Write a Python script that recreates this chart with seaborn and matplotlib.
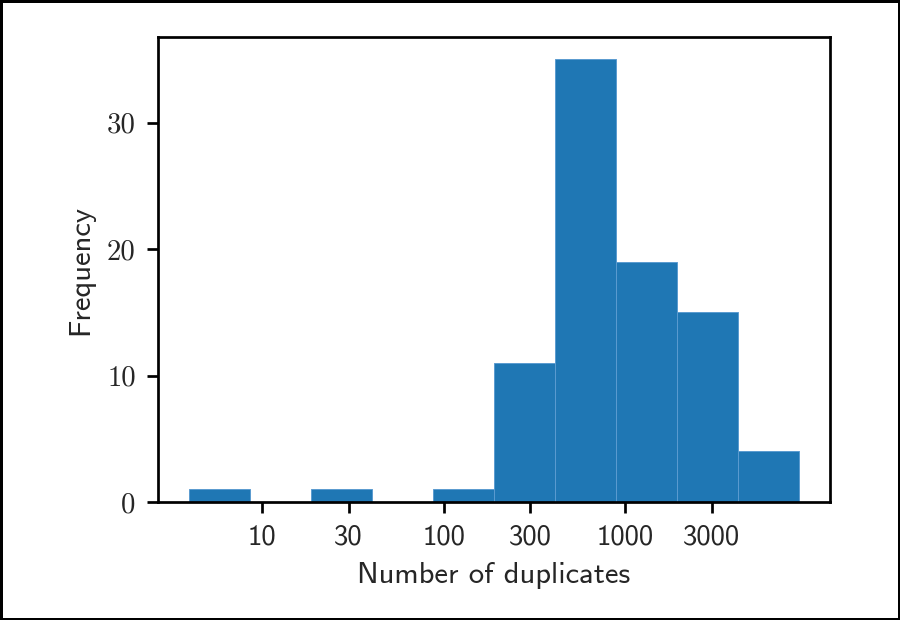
import numpy as np
import matplotlib
matplotlib.use('Agg')
import matplotlib.pyplot as plt
import seaborn as sns

# Histogram: 10 log-spaced bins
counts = [1, 0, 1, 0, 1, 11, 35, 19, 15, 4]
lowest, highest = 3.95, 9100  # outer bin edges
xtick_values = [10, 30, 100, 300, 1000, 3000]
ytick_values = [0, 10, 20, 30]

log_edges = np.linspace(np.log10(lowest), np.log10(highest), len(counts) + 1)
centers = 10 ** ((log_edges[:-1] + log_edges[1:]) / 2)

sns.set_style('ticks')
plt.rcParams['font.family'] = ['cmss10', 'DejaVu Sans']
plt.rcParams['axes.unicode_minus'] = False

dpi = 230
fig = plt.figure(figsize=(900 / dpi, 620 / dpi), dpi=dpi)
ax = fig.add_axes([0.1756, 0.1903, 0.9222 - 0.1756, 0.9398 - 0.1903])

sns.histplot(x=list(centers), weights=counts, bins=list(log_edges), log_scale=True,
             color='#1f77b4', alpha=1.0, edgecolor='#5b9bd0', linewidth=0.3,
             ax=ax)

ax.set_xticks(xtick_values)
ax.set_xticklabels([str(v) for v in xtick_values], fontsize=9)
ax.xaxis.set_minor_locator(matplotlib.ticker.NullLocator())
ax.set_yticks(ytick_values)
ax.set_yticklabels([str(v) for v in ytick_values], fontfamily='cmr10', fontsize=9)

ax.set_xlabel('Number of duplicates', fontsize=9.6)
ax.set_ylabel('Frequency', fontsize=9.6)
for s in ax.spines.values():
    s.set_visible(True)
    s.set_linewidth(0.85)
    s.set_color('black')
ax.tick_params(length=3.5, width=0.85, color='black')

fig.patch.set_edgecolor('black')
fig.patch.set_linewidth(1.0)

fig.savefig('out.png', dpi=dpi, edgecolor=fig.get_edgecolor())
